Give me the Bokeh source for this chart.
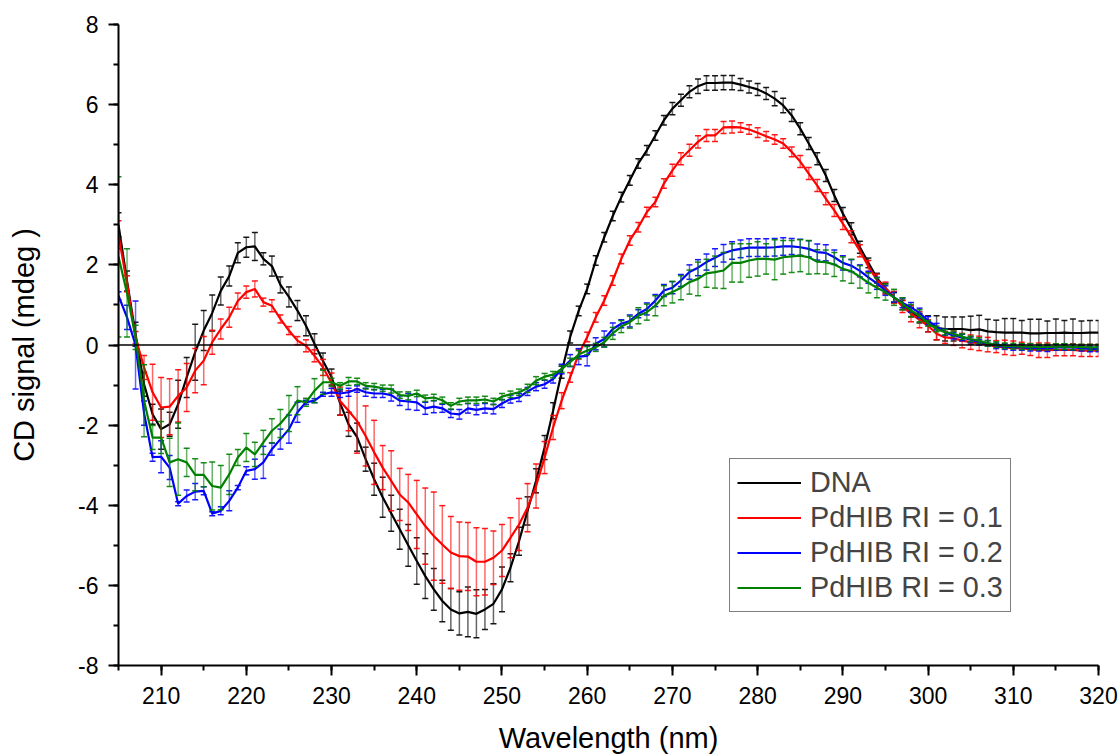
from bokeh.plotting import figure
from bokeh.models import (Range1d, SingleIntervalTicker, Span, Legend, LegendItem,
                          ColumnDataSource, CustomJSTickFormatter)
from bokeh.embed import file_html
from bokeh.resources import INLINE

wavelength = list(range(205, 321))

dna = [3.0, 1.6, 0.27, -0.98, -1.73, -2.1, -1.98, -1.48, -0.81, -0.18,
       0.36, 0.8, 1.35, 1.72, 2.3, 2.44, 2.46, 2.15, 1.97, 1.5,
       1.2, 0.86, 0.48, 0.03, -0.4, -0.8, -1.45, -1.98, -2.3, -2.85,
       -3.35, -3.8, -4.2, -4.6, -5.0, -5.39, -5.77, -6.1, -6.39, -6.6,
       -6.7, -6.66, -6.71, -6.6, -6.46, -6.1, -5.56, -4.9, -4.14, -3.39,
       -2.56, -1.64, -0.68, 0.2, 0.85, 1.4, 2.11, 2.69, 3.22, 3.69,
       4.11, 4.53, 4.86, 5.23, 5.61, 5.9, 6.11, 6.32, 6.46, 6.54,
       6.54, 6.55, 6.55, 6.5, 6.44, 6.38, 6.28, 6.15, 5.98, 5.73,
       5.4, 5.03, 4.65, 4.23, 3.73, 3.28, 2.9, 2.44, 2.05, 1.67,
       1.42, 1.19, 1.0, 0.82, 0.67, 0.53, 0.43, 0.4, 0.4, 0.4,
       0.37, 0.39, 0.34, 0.32, 0.31, 0.31, 0.31, 0.29, 0.29, 0.3,
       0.3, 0.31, 0.3, 0.3, 0.31, 0.31]
dna_err = [0.3, 0.25, 0.3, 0.3, 0.25, 0.5, 0.3, 0.6, 0.5, 0.7,
           0.5, 0.45, 0.35, 0.25, 0.25, 0.25, 0.35, 0.15, 0.25, 0.2,
           0.25, 0.25, 0.25, 0.25, 0.2, 0.2, 0.3, 0.3, 0.35, 0.3,
           0.4, 0.5, 0.45, 0.5, 0.52, 0.58, 0.56, 0.52, 0.52, 0.52,
           0.54, 0.62, 0.6, 0.5, 0.5, 0.56, 0.35, 0.35, 0.35, 0.3,
           0.3, 0.2, 0.15, 0.15, 0.12, 0.12, 0.12, 0.12, 0.12, 0.12,
           0.12, 0.12, 0.12, 0.12, 0.12, 0.15, 0.15, 0.15, 0.18, 0.18,
           0.18, 0.18, 0.18, 0.15, 0.15, 0.15, 0.15, 0.18, 0.18, 0.15,
           0.15, 0.15, 0.15, 0.15, 0.15, 0.15, 0.15, 0.15, 0.12, 0.12,
           0.12, 0.12, 0.12, 0.12, 0.12, 0.2, 0.3, 0.3, 0.3, 0.3,
           0.35, 0.35, 0.3, 0.3, 0.35, 0.35, 0.3, 0.35, 0.35, 0.3,
           0.35, 0.3, 0.35, 0.3, 0.3, 0.3]

ri01 = [2.75, 1.53, 0.19, -0.56, -1.18, -1.56, -1.54, -1.27, -1.06, -0.64,
        -0.39, 0.07, 0.4, 0.69, 1.1, 1.32, 1.4, 1.07, 0.98, 0.65,
        0.36, 0.11, -0.02, -0.27, -0.56, -0.95, -1.4, -1.64, -1.9, -2.27,
        -2.68, -3.06, -3.39, -3.73, -3.93, -4.23, -4.52, -4.77, -4.98, -5.18,
        -5.27, -5.28, -5.41, -5.41, -5.31, -5.13, -4.81, -4.48, -4.06, -3.52,
        -2.81, -2.06, -1.39, -0.81, -0.23, 0.2, 0.69, 1.11, 1.61, 2.15,
        2.61, 2.94, 3.32, 3.57, 4.03, 4.36, 4.65, 4.86, 5.07, 5.23,
        5.23, 5.43, 5.44, 5.43, 5.38, 5.3, 5.21, 5.13, 5.03, 4.82,
        4.58, 4.28, 3.98, 3.65, 3.36, 3.03, 2.7, 2.35, 1.96, 1.62,
        1.42, 1.19, 0.96, 0.78, 0.63, 0.48, 0.28, 0.19, 0.17, 0.11,
        0.07, 0.04, 0.01, -0.04, -0.06, -0.08, -0.08, -0.11, -0.13, -0.13,
        -0.12, -0.12, -0.12, -0.14, -0.14, -0.14]
ri01_err = [0.35, 0.2, 0.15, 0.3, 0.7, 0.75, 0.7, 0.65, 0.6, 0.55,
            0.6, 0.3, 0.25, 0.25, 0.2, 0.15, 0.2, 0.1, 0.15, 0.1,
            0.1, 0.1, 0.15, 0.15, 0.2, 0.25, 0.35, 0.5, 0.8, 0.75,
            0.8, 0.55, 0.75, 0.65, 0.7, 0.85, 0.95, 1.1, 0.97, 0.9,
            0.85, 0.85, 0.85, 0.83, 0.67, 0.65, 0.5, 0.65, 0.6, 0.55,
            0.4, 0.3, 0.2, 0.12, 0.12, 0.12, 0.12, 0.12, 0.12, 0.12,
            0.12, 0.12, 0.12, 0.12, 0.12, 0.15, 0.15, 0.15, 0.15, 0.15,
            0.15, 0.15, 0.15, 0.12, 0.12, 0.12, 0.12, 0.12, 0.12, 0.12,
            0.15, 0.15, 0.15, 0.15, 0.15, 0.15, 0.15, 0.15, 0.15, 0.15,
            0.15, 0.15, 0.15, 0.2, 0.2, 0.15, 0.15, 0.15, 0.18, 0.18,
            0.18, 0.18, 0.18, 0.15, 0.18, 0.18, 0.15, 0.15, 0.18, 0.18,
            0.15, 0.15, 0.15, 0.15, 0.15, 0.15]

ri02 = [1.23, 0.69, 0.0, -1.7, -2.8, -2.79, -3.06, -3.96, -3.77, -3.66,
        -3.64, -4.21, -4.14, -3.89, -3.56, -3.14, -3.1, -2.93, -2.6, -2.35,
        -2.1, -1.68, -1.43, -1.39, -1.23, -1.18, -1.21, -1.18, -1.1, -1.18,
        -1.21, -1.21, -1.25, -1.39, -1.41, -1.43, -1.58, -1.54, -1.58, -1.71,
        -1.73, -1.58, -1.62, -1.58, -1.6, -1.46, -1.35, -1.31, -1.16, -1.04,
        -0.98, -0.85, -0.6, -0.39, -0.29, -0.27, 0.03, 0.15, 0.4, 0.53,
        0.6, 0.78, 0.9, 1.11, 1.36, 1.43, 1.61, 1.82, 1.93, 2.07,
        2.18, 2.29, 2.36, 2.4, 2.43, 2.43, 2.43, 2.44, 2.46, 2.46,
        2.44, 2.4, 2.32, 2.3, 2.19, 2.05, 1.98, 1.85, 1.69, 1.54,
        1.36, 1.19, 1.05, 0.94, 0.8, 0.61, 0.46, 0.32, 0.23, 0.19,
        0.13, 0.07, 0.04, -0.02, -0.04, -0.06, -0.06, -0.08, -0.08, -0.09,
        -0.06, -0.06, -0.06, -0.08, -0.1, -0.1]
ri02_err = [0.1, 0.3, 1.1, 0.3, 0.1, 0.4, 0.3, 0.05, 0.15, 0.2,
            0.1, 0.05, 0.1, 0.25, 0.05, 0.1, 0.25, 0.4, 0.15, 0.25,
            0.35, 0.25, 0.05, 0.05, 0.05, 0.1, 0.1, 0.1, 0.08, 0.1,
            0.1, 0.1, 0.15, 0.12, 0.2, 0.2, 0.15, 0.15, 0.1, 0.1,
            0.12, 0.12, 0.12, 0.12, 0.12, 0.1, 0.1, 0.1, 0.1, 0.1,
            0.1, 0.1, 0.12, 0.15, 0.2, 0.25, 0.15, 0.2, 0.15, 0.1,
            0.15, 0.1, 0.15, 0.15, 0.15, 0.15, 0.15, 0.18, 0.2, 0.2,
            0.22, 0.22, 0.22, 0.22, 0.22, 0.22, 0.22, 0.22, 0.22, 0.2,
            0.2, 0.2, 0.2, 0.2, 0.18, 0.18, 0.15, 0.15, 0.15, 0.15,
            0.12, 0.12, 0.12, 0.12, 0.12, 0.1, 0.08, 0.08, 0.08, 0.08,
            0.07, 0.07, 0.07, 0.07, 0.07, 0.07, 0.07, 0.07, 0.07, 0.07,
            0.07, 0.07, 0.07, 0.07, 0.07, 0.07]

ri03 = [2.2, 1.3, 0.19, -1.39, -2.31, -2.31, -2.93, -2.85, -2.93, -3.24,
        -3.24, -3.52, -3.56, -3.23, -2.81, -2.56, -2.73, -2.43, -2.14, -1.96,
        -1.71, -1.39, -1.43, -1.14, -0.93, -0.93, -1.02, -0.91, -0.91, -1.02,
        -1.04, -1.08, -1.1, -1.25, -1.27, -1.21, -1.33, -1.31, -1.38, -1.52,
        -1.41, -1.38, -1.38, -1.36, -1.41, -1.29, -1.23, -1.18, -1.08, -0.89,
        -0.79, -0.74, -0.6, -0.43, -0.24, -0.14, -0.06, 0.07, 0.29, 0.46,
        0.57, 0.73, 0.82, 0.98, 1.23, 1.32, 1.43, 1.57, 1.65, 1.79,
        1.82, 1.86, 2.05, 2.05, 2.11, 2.15, 2.15, 2.13, 2.19, 2.21,
        2.23, 2.19, 2.08, 2.07, 2.01, 1.9, 1.84, 1.7, 1.55, 1.43,
        1.32, 1.19, 1.03, 0.86, 0.73, 0.54, 0.4, 0.32, 0.28, 0.21,
        0.15, 0.11, 0.04, 0.01, -0.02, -0.03, -0.04, -0.04, -0.05, -0.05,
        -0.04, -0.04, -0.05, -0.05, -0.06, -0.06]
ri03_err = [2.0, 1.1, 0.3, 0.9, 0.3, 0.4, 0.6, 0.9, 0.35, 0.4,
            0.3, 0.6, 0.55, 0.5, 0.2, 0.35, 0.3, 0.3, 0.3, 0.35,
            0.45, 0.35, 0.1, 0.3, 0.3, 0.1, 0.08, 0.1, 0.08, 0.08,
            0.08, 0.08, 0.1, 0.08, 0.1, 0.08, 0.08, 0.08, 0.08, 0.08,
            0.08, 0.08, 0.08, 0.08, 0.08, 0.08, 0.08, 0.08, 0.1, 0.1,
            0.08, 0.08, 0.08, 0.1, 0.1, 0.1, 0.1, 0.12, 0.15, 0.15,
            0.15, 0.2, 0.2, 0.25, 0.25, 0.27, 0.3, 0.3, 0.42, 0.35,
            0.4, 0.45, 0.48, 0.48, 0.42, 0.43, 0.38, 0.5, 0.42, 0.4,
            0.4, 0.42, 0.3, 0.3, 0.3, 0.3, 0.3, 0.28, 0.25, 0.25,
            0.2, 0.2, 0.15, 0.15, 0.15, 0.07, 0.07, 0.07, 0.07, 0.07,
            0.07, 0.07, 0.07, 0.07, 0.07, 0.07, 0.07, 0.07, 0.07, 0.07,
            0.07, 0.07, 0.07, 0.07, 0.07, 0.07]

series_names = ["DNA", "PdHIB RI = 0.1", "PdHIB RI = 0.2", "PdHIB RI = 0.3"]
series_values = [dna, ri01, ri02, ri03]
series_errors = [dna_err, ri01_err, ri02_err, ri03_err]
series_colors = ["#000000", "#FF0000", "#0000FF", "#008000"]

FONT = "Liberation Sans"

p = figure(width=1120, height=756, output_backend="svg", toolbar_location=None,
           x_range=Range1d(205, 320), y_range=Range1d(-8, 8),
           min_border_left=118, min_border_right=22, min_border_top=24, min_border_bottom=91)
p.outline_line_color = None
p.xgrid.visible = False
p.ygrid.visible = False
p.background_fill_color = "white"
p.border_fill_color = "white"

p.add_layout(Span(location=0, dimension="width", line_color="black", line_width=1.3))

items = []
for name, vals, errs, col in zip(series_names, series_values, series_errors, series_colors):
    lower = [v - e for v, e in zip(vals, errs)]
    upper = [v + e for v, e in zip(vals, errs)]
    src = ColumnDataSource(dict(x=wavelength, y=vals, lo=lower, hi=upper))
    p.segment(x0="x", y0="lo", x1="x", y1="hi", source=src, line_color=col, line_alpha=0.6, line_width=1.5)
    p.scatter(x="x", y="hi", source=src, marker="dash", size=6, line_color=col, line_width=1.5, line_alpha=0.9)
    p.scatter(x="x", y="lo", source=src, marker="dash", size=6, line_color=col, line_width=1.5, line_alpha=0.9)
    r = p.line(x="x", y="y", source=src, line_color=col, line_width=2.2)
    items.append(LegendItem(label=name, renderers=[r]))

fmt = CustomJSTickFormatter(code="return tick.toString();")
for ax in (p.xaxis[0], p.yaxis[0]):
    ax.axis_line_width = 2
    ax.axis_line_color = "black"
    ax.major_tick_line_width = 2
    ax.minor_tick_line_width = 2
    ax.major_tick_out = 10
    ax.major_tick_in = 0
    ax.minor_tick_out = 5
    ax.minor_tick_in = 0
    ax.major_label_text_font = FONT
    ax.major_label_text_font_size = "23px"
    ax.major_label_text_color = "black"
    ax.axis_label_text_font = FONT
    ax.axis_label_text_font_size = "29px"
    ax.axis_label_text_font_style = "normal"
    ax.axis_label_text_color = "black"
    ax.formatter = fmt

p.xaxis.ticker = SingleIntervalTicker(interval=10, num_minor_ticks=2)
p.yaxis.ticker = SingleIntervalTicker(interval=2, num_minor_ticks=2)
p.xaxis.axis_label = "Wavelength (nm)"
p.yaxis.axis_label = "CD signal (mdeg )"
p.xaxis.major_label_standoff = 11
p.yaxis.major_label_standoff = 10
p.xaxis.axis_label_standoff = 15
p.yaxis.axis_label_standoff = 35

legend = Legend(items=items, location=(611, 53))
legend.border_line_color = "black"
legend.border_line_width = 1.5
legend.background_fill_color = "white"
legend.label_text_font = FONT
legend.label_text_font_size = "28.8px"
legend.glyph_width = 64
legend.glyph_height = 29
legend.label_height = 29
legend.label_standoff = 9
legend.spacing = 2
legend.padding = 7
legend.margin = 0
p.add_layout(legend, "center")

open("out.html", "w").write(file_html(p, INLINE))
